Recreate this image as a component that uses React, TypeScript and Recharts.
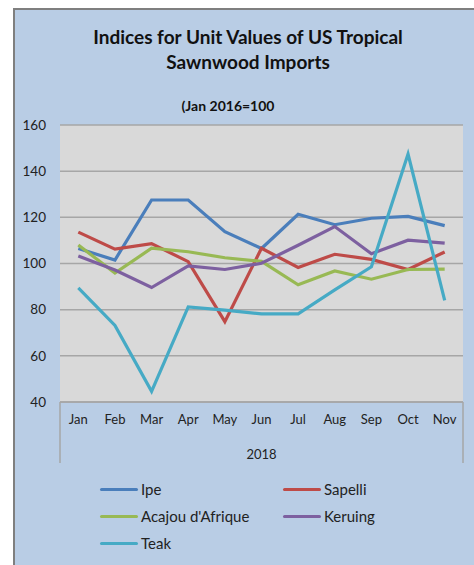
import { CartesianGrid, Line, LineChart, XAxis, YAxis } from "recharts";

const months = ["Jan", "Feb", "Mar", "Apr", "May", "Jun", "Jul", "Aug", "Sep", "Oct", "Nov"];
const ipe = [106.5, 101.5, 127.5, 127.5, 113.8, 106.5, 121.3, 116.8, 119.6, 120.4, 116.4];
const sapelli = [113.6, 106.2, 108.6, 100.8, 74.8, 106.6, 98.3, 104.0, 101.8, 97.4, 105.0];
const acajou = [108.0, 95.9, 106.6, 105.1, 102.5, 100.9, 90.8, 96.8, 93.2, 97.4, 97.6];
const keruing = [103.2, 97.2, 89.6, 99.0, 97.4, 100.1, 107.9, 116.0, 104.2, 110.1, 108.8];
const teak = [89.4, 73.2, 44.6, 81.2, 79.8, 78.2, 78.2, 88.6, 98.6, 147.4, 84.0];
const yTicks = [40, 60, 80, 100, 120, 140, 160];

const series = [
  { key: "ipe", name: "Ipe", color: "#4a7ebb", values: ipe },
  { key: "sapelli", name: "Sapelli", color: "#be4b48", values: sapelli },
  { key: "acajou", name: "Acajou d'Afrique", color: "#98b954", values: acajou },
  { key: "keruing", name: "Keruing", color: "#7d60a0", values: keruing },
  { key: "teak", name: "Teak", color: "#46aac5", values: teak },
];

const rows = months.map((month, i) => {
  const row: Record<string, string | number> = { month };
  series.forEach((s) => (row[s.key] = s.values[i]));
  return row;
});

const font = "Lato, 'Open Sans', sans-serif";
const W = 474;
const H = 565;
// half of one category band, so points sit between the label slots
const halfBand = 403 / months.length / 2;

export default function App() {
  return (
    <div style={{ position: "absolute", left: 0, top: 0, width: W, height: H, background: "#fff", fontFamily: font }}>
      <div
        style={{
          position: "absolute",
          left: 13,
          top: 8,
          width: W - 13,
          height: H - 8,
          background: "#b9cde5",
          borderLeft: "2px solid #7f7f7f",
          borderTop: "2px solid #7f7f7f",
          boxSizing: "border-box",
        }}
      />
      <div style={{ position: "absolute", left: 0, top: 0 }}>
        <LineChart width={W} height={H} data={rows} margin={{ top: 125, right: 11, bottom: 102, left: 0 }}>
          <CartesianGrid vertical={false} fill="#d9d9d9" stroke="#a6a6a6" strokeWidth={1.5} />
          <XAxis
            dataKey="month"
            height={61}
            padding={{ left: halfBand, right: halfBand }}
            axisLine={{ stroke: "#a6a6a6", strokeWidth: 1.5 }}
            tickLine={false}
            tickSize={0}
            tickMargin={13}
            tick={{ fill: "#222", fontSize: 13, fontFamily: font }}
            label={{ value: "2018", position: "insideBottom", offset: 4, fill: "#222", fontSize: 13, fontFamily: font }}
          />
          <YAxis
            width={60}
            domain={[40, 160]}
            ticks={yTicks}
            axisLine={false}
            tickLine={false}
            tickSize={0}
            tickMargin={14}
            tick={{ fill: "#222", fontSize: 13.5, fontFamily: font }}
          />
          {series.map((s) => (
            <Line
              key={s.key}
              dataKey={s.key}
              name={s.name}
              stroke={s.color}
              strokeWidth={3.2}
              dot={false}
              activeDot={false}
              isAnimationActive={false}
            />
          ))}
        </LineChart>
      </div>
      {/* box around the category labels */}
      <svg width={W} height={H} style={{ position: "absolute", left: 0, top: 0, pointerEvents: "none" }}>
        <line x1={60} y1={402} x2={60} y2={463} stroke="#a6a6a6" strokeWidth={1.5} />
        <line x1={463} y1={402} x2={463} y2={463} stroke="#a6a6a6" strokeWidth={1.5} />
      </svg>
      <div
        style={{
          position: "absolute",
          left: 48,
          width: 400,
          top: 24,
          textAlign: "center",
          fontWeight: 700,
          fontSize: 19,
          lineHeight: "25px",
          color: "#111",
        }}
      >
        Indices for Unit Values of US Tropical
        <br />
        Sawnwood Imports
      </div>
      <div
        style={{ position: "absolute", left: 28, width: 400, top: 97, textAlign: "center", fontWeight: 700, fontSize: 14, color: "#111" }}
      >
        (Jan 2016=100
      </div>
      <div
        style={{
          position: "absolute",
          left: 100,
          top: 479,
          display: "grid",
          gridTemplateColumns: "183px 160px",
          rowGap: 7,
          fontSize: 15,
          color: "#222",
        }}
      >
        {series.map((s) => (
          <div key={s.key} style={{ display: "flex", alignItems: "center", height: 20 }}>
            <span style={{ display: "inline-block", width: 38, height: 3, borderRadius: 2, background: s.color, marginRight: 3 }} />
            {s.name}
          </div>
        ))}
      </div>
    </div>
  );
}
